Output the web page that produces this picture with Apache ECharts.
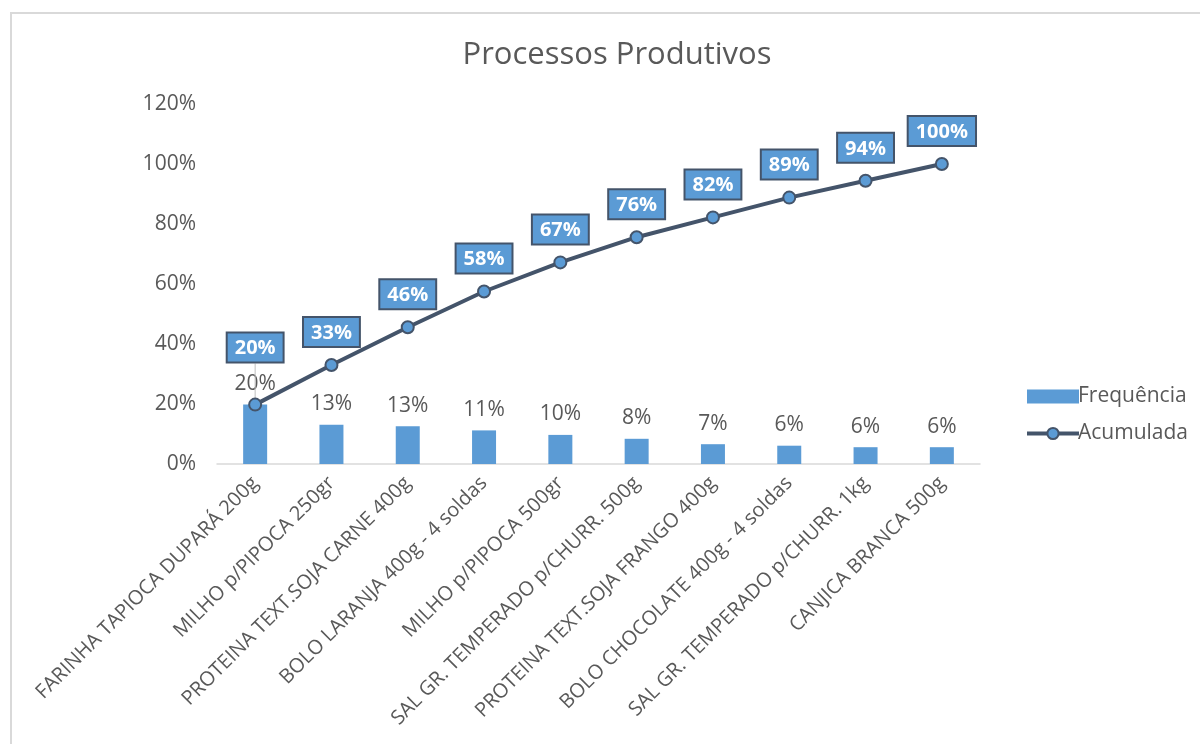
<!DOCTYPE html>
<html><head><meta charset="utf-8">
<script src="https://cdn.jsdelivr.net/npm/echarts@6/dist/echarts.min.js"></script>
<style>
html,body{margin:0;padding:0;background:#fff;}
#frame{position:absolute;left:10px;top:12px;width:1200px;height:740px;border:2px solid #D9D9D9;box-sizing:border-box;}
#c{position:absolute;left:0;top:0;width:1200px;height:744px;}
</style></head>
<body>
<div id="frame"></div>
<div id="c"></div>
<script>
const categories = ["FARINHA TAPIOCA DUPARÁ 200g","MILHO p/PIPOCA 250gr","PROTEINA TEXT.SOJA CARNE 400g","BOLO LARANJA 400g - 4 soldas","MILHO p/PIPOCA 500gr","SAL GR. TEMPERADO p/CHURR. 500g","PROTEINA TEXT.SOJA FRANGO 400g","BOLO CHOCOLATE 400g - 4 soldas","SAL GR. TEMPERADO p/CHURR. 1kg","CANJICA BRANCA 500g"];
const frequencia = [19.8, 13.1, 12.6, 11.2, 9.7, 8.4, 6.6, 6.1, 5.6, 5.6];
const acumulada = [19.8, 33.0, 45.6, 57.5, 67.2, 75.6, 82.2, 88.8, 94.4, 100];
const yTicks = [0, 20, 40, 60, 80, 100, 120];

const FONT = 'Open Sans';
const chart = echarts.init(document.getElementById('c'), null, {renderer:'canvas'});
const lineData = acumulada.map((v,i)=> i===0
  ? {value:v, labelLine:{show:true, lineStyle:{color:'#BFBFBF', width:1}}}
  : v);
chart.setOption({
  animation:false,
  textStyle:{fontFamily:FONT},
  title:{text:'Processos Produtivos', left:612, top:35, textAlign:'center',
    textStyle:{fontFamily:FONT, fontSize:31, fontWeight:'normal', color:'#595959'}},
  legend:{orient:'vertical', left:1020, top:381, itemGap:16, itemWidth:52, itemHeight:14,
    textStyle:{fontFamily:FONT, fontSize:21, color:'#595959', padding:[0,0,0,-6]},
    data:[{name:'Frequência', icon:'rect'},
          {name:'Acumulada', lineStyle:{width:4, color:'#44546A'}}]},
  grid:{left:217, right:220, top:104, bottom:280, containLabel:false},
  xAxis:{type:'category', data:categories,
    axisLine:{lineStyle:{color:'#D9D9D9', width:1.5}}, axisTick:{show:false},
    axisLabel:{rotate:45, interval:0, fontFamily:FONT, fontSize:20, color:'#595959', margin:16}},
  yAxis:{type:'value', min:0, max:120, interval:20,
    axisLine:{show:false}, axisTick:{show:false}, splitLine:{show:false},
    axisLabel:{formatter:v=>v+'%', fontFamily:FONT, fontSize:21, color:'#595959', margin:21}},
  series:[
    {name:'Frequência', type:'bar', data:frequencia, barWidth:24,
      itemStyle:{color:'#5B9BD5'},
      label:{show:true, position:'top', distance:10, formatter:p=>Math.round(p.value)+'%',
        fontFamily:FONT, fontSize:21, color:'#595959'}},
    {name:'Acumulada', type:'line', data:lineData, symbol:'circle', symbolSize:12,
      lineStyle:{color:'#44546A', width:4},
      itemStyle:{color:'#5B9BD5', borderColor:'#44546A', borderWidth:2},
      label:{show:true, position:'top', distance:12, formatter:p=>Math.round(p.value)+'%',
        fontFamily:FONT, fontSize:20, fontWeight:'bold', color:'#fff',
        backgroundColor:'#5B9BD5', borderColor:'#44546A', borderWidth:2,
        padding:[5,7,3,7]},
      labelLine:{show:false},
      labelLayout:function(p){ return p.dataIndex===0 ? {dy:-24} : {}; },
      z:3}
  ]
});
</script>
</body></html>
